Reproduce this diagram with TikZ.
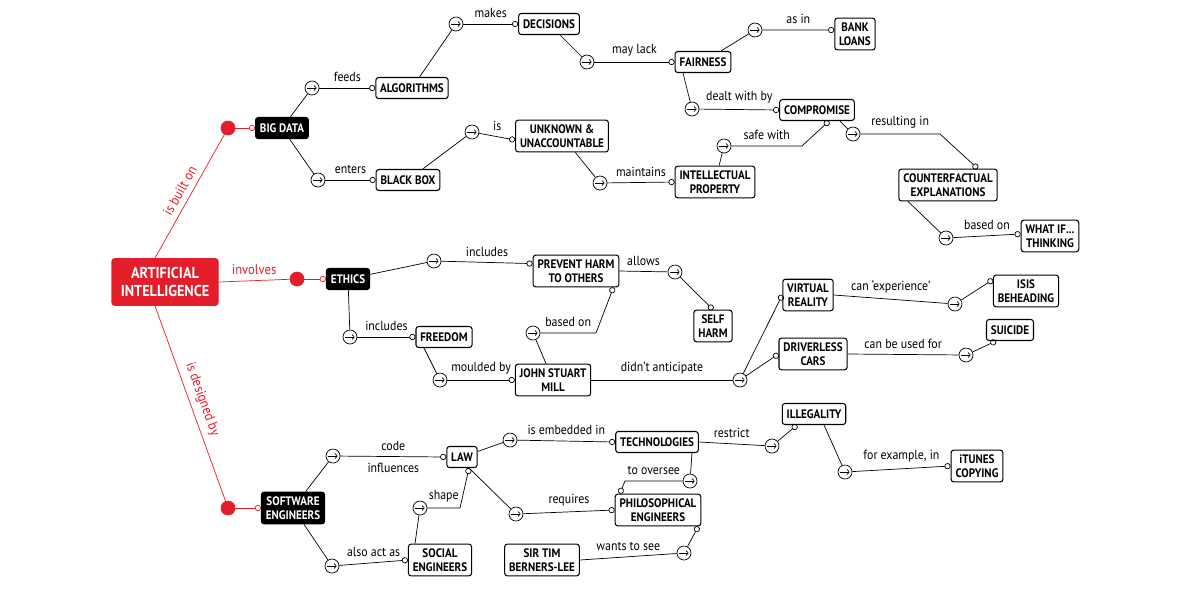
\documentclass[tikz,border=0pt]{standalone}
\usepackage{fontspec}
\setmainfont{PT Sans}[FakeStretch=0.9]
\usepackage{tikz}
\usetikzlibrary{shapes, arrows.meta, positioning}
\definecolor{aired}{HTML}{E31E2A}
\begin{document}
\begin{tikzpicture}[
    x=0.02cm, y=-0.02cm,
    concept/.style={
        rectangle, rounded corners=1.5pt,
        draw=black, semithick, fill=white,
        minimum height=0.42cm, inner sep=2.5pt,
        align=center,
        font=\fontsize{7}{8}\selectfont\bfseries
    },
    dark/.style={concept, fill=black, text=white},
    root/.style={concept, draw=aired, fill=aired, text=white,
        inner sep=5pt, font=\fontsize{9}{10}\selectfont\bfseries},
    hub/.style={
        circle, draw=black, fill=white,
        minimum size=0.28cm, inner sep=0pt,
        path picture={\draw[-{To[length=1.6pt,width=3.2pt]}]
            ([xshift=-2.6pt]path picture bounding box.center) --
            ([xshift=2.6pt]path picture bounding box.center);}
    },
    redhub/.style={hub, draw=aired, color=aired},
    link/.style={black, font=\fontsize{7.5}{8}\selectfont},
    tip/.style={link, -{Circle[open, length=3.5pt, width=3.5pt]}},
    redlink/.style={aired, font=\fontsize{8}{9}\selectfont},
    redtip/.style={redlink, -{Circle[open, length=3.5pt, width=3.5pt]}}
]
\useasboundingbox (0,0) rectangle (1200,600);

% concepts
\node[root]    (ai)       at (165,282) {ARTIFICIAL\\INTELLIGENCE};
\node[dark]    (bigdata)  at (282,128) {BIG DATA};
\node[dark]    (ethics)   at (348,279) {ETHICS};
\node[dark]    (soft)     at (293,508) {SOFTWARE\\ENGINEERS};
\node[concept] (algo)     at (412,88)  {ALGORITHMS};
\node[concept] (blackbox) at (408,180) {BLACK BOX};
\node[concept] (decision) at (549,24)  {DECISIONS};
\node[concept] (unknown)  at (562,136) {UNKNOWN \&\\UNACCOUNTABLE};
\node[concept] (fairness) at (703,62)  {FAIRNESS};
\node[concept] (bank)     at (855,34)  {BANK\\LOANS};
\node[concept] (compro)   at (817,110) {COMPROMISE};
\node[concept] (intprop)  at (715,182) {INTELLECTUAL\\PROPERTY};
\node[concept] (counter)  at (948,185) {COUNTERFACTUAL\\EXPLANATIONS};
\node[concept] (whatif)   at (1050,236) {WHAT IF...\\THINKING};
\node[concept] (prevent)  at (576,271) {PREVENT HARM\\TO OTHERS};
\node[concept] (selfharm) at (713,326) {SELF\\HARM};
\node[concept] (freedom)  at (444,337) {FREEDOM};
\node[concept] (mill)     at (553,380) {JOHN STUART\\MILL};
\node[concept] (virtual)  at (808,295) {VIRTUAL\\REALITY};
\node[concept] (isis)     at (1026,291) {ISIS\\BEHEADING};
\node[concept] (cars)     at (813,354) {DRIVERLESS\\CARS};
\node[concept] (suicide)  at (1010,330) {SUICIDE};
\node[concept] (illegal)  at (814,414) {ILLEGALITY};
\node[concept] (itunes)   at (977,466) {iTUNES\\COPYING};
\node[concept] (law)      at (462,457) {LAW};
\node[concept] (tech)     at (657,442) {TECHNOLOGIES};
\node[concept] (philo)    at (658,510) {PHILOSOPHICAL\\ENGINEERS};
\node[concept] (social)   at (440,560) {SOCIAL\\ENGINEERS};
\node[concept] (berners)  at (542,560) {SIR TIM\\BERNERS-LEE};

% hubs
\node[redhub] (hbuilt)  at (228,128) {};
\node[redhub] (hinv)    at (297,279) {};
\node[redhub] (hdesign) at (228,508) {};
\node[hub] (hfeeds)   at (312,88)  {};
\node[hub] (henters)  at (318,180) {};
\node[hub] (hmakes)   at (456,24)  {};
\node[hub] (his)      at (472,132) {};
\node[hub] (hlack)    at (587,62)  {};
\node[hub] (hmaint)   at (600,183) {};
\node[hub] (hasin)    at (755,30)  {};
\node[hub] (hdealt)   at (692,109) {};
\node[hub] (hsafe)    at (724,146) {};
\node[hub] (hresult)  at (853,134) {};
\node[hub] (hbased)   at (946,238) {};
\node[hub] (hincl)    at (434,261) {};
\node[hub] (hincl2)   at (350,337) {};
\node[hub] (hallows)  at (675,272) {};
\node[hub] (hmould)   at (440,380) {};
\node[hub] (hbasedon) at (533,333) {};
\node[hub] (hanti)    at (740,380) {};
\node[hub] (hexp)     at (955,304) {};
\node[hub] (hused)    at (966,355) {};
\node[hub] (hcode)    at (333,456) {};
\node[hub] (hembed)   at (510,440) {};
\node[hub] (hreq)     at (516,514) {};
\node[hub] (hact)     at (332,566) {};
\node[hub] (hshape)   at (420,508) {};
\node[hub] (hrestr)   at (772,446) {};
\node[hub] (hovers)   at (690,481) {};
\node[hub] (hexample) at (845,472) {};
\node[hub] (hwants)   at (684,553) {};

% bends
\coordinate (csafe)   at (802,146);
\coordinate (cresult) at (940,134);
\coordinate (cbased)  at (596,333);
\coordinate (cshape)  at (460,508);
\coordinate (covers)  at (625,481);

% root links
\draw[redlink] ([xshift=-0.2cm]ai.north) -- node[sloped, above] {is built on} (hbuilt);
\draw[redtip]  (hbuilt) -- (bigdata.west);
\draw[redlink] (ai.east) -- node[above] {involves} (hinv);
\draw[redtip]  (hinv) -- (ethics.west);
\draw[redlink] ([xshift=-0.2cm]ai.south) -- node[sloped, above] {is designed by} (hdesign);
\draw[redtip]  (hdesign) -- (soft.west);

% big data
\draw[link] (bigdata) -- (hfeeds);
\draw[tip]  (hfeeds) -- node[above] {feeds} (algo.west);
\draw[link] (bigdata) -- (henters);
\draw[tip]  (henters) -- node[above] {enters} (blackbox.west);
\draw[link] (algo) -- (hmakes);
\draw[tip]  (hmakes) -- node[above] {makes} (decision.west);
\draw[link] (blackbox) -- (his);
\draw[tip]  (his) -- node[above] {is} ([yshift=-0.08cm]unknown.west);
\draw[link] (decision) -- (hlack);
\draw[tip]  (hlack) -- node[above] {may lack} (fairness.west);
\draw[link] (unknown) -- (hmaint);
\draw[tip]  (hmaint) -- node[above] {maintains} (intprop.west);
\draw[link] (fairness) -- (hasin);
\draw[tip]  (hasin) -- node[above] {as in} ([yshift=0.08cm]bank.west);
\draw[link] ([xshift=-0.4cm]fairness.south) -- (hdealt);
\draw[tip]  (hdealt) -- node[above] {dealt with by} (compro.west);
\draw[link] (intprop) -- (hsafe);
\draw[tip]  (hsafe) -- node[above] {safe with} (csafe) -- ([xshift=0.24cm]compro.south);
\draw[link] ([xshift=0.46cm]compro.south) -- (hresult);
\draw[tip]  (hresult) -- node[above] {resulting in} (cresult) -- ([xshift=-0.4cm]counter.north east);
\draw[link] ([xshift=-0.8cm]counter.south) -- (hbased);
\draw[tip]  (hbased) -- node[above] {based on} ([yshift=0.04cm]whatif.west);

% ethics
\draw[link] (ethics) -- (hincl);
\draw[tip]  (hincl) -- node[above] {includes} ([yshift=-0.18cm]prevent.north west);
\draw[link] (ethics) -- (hincl2);
\draw[tip]  (hincl2) -- node[above] {includes} (freedom.west);
\draw[link] (prevent.east) -- node[above] {allows} (hallows);
\draw[tip]  (hallows) -- (selfharm.north);
\draw[link] ([xshift=-0.4cm]freedom.south) -- (hmould);
\draw[tip]  (hmould) -- node[above] {moulded by} (mill.west);
\draw[link] (mill) -- (hbasedon);
\draw[tip]  (hbasedon) -- node[above] {based on} (cbased) -- ([xshift=-0.12cm]prevent.south east);
\draw[link] (mill.east) -- node[above] {didn't anticipate} (hanti);
\draw[tip]  (hanti) -- (virtual.west);
\draw[tip]  (hanti) -- (cars.west);
\draw[link] (virtual.east) -- node[above] {can ‘experience’} (hexp);
\draw[tip]  (hexp) -- ([yshift=-0.1cm]isis.north west);
\draw[link] (cars.east) -- node[above] {can be used for} (hused);
\draw[tip]  (hused) -- ([xshift=0.2cm]suicide.south west);

% software engineers
\draw[link] (soft) -- (hcode);
\draw[tip]  (hcode) -- node[above] {code} node[below] {influences} (law.west);
\draw[link] (law) -- (hembed);
\draw[tip]  (hembed) -- node[above] {is embedded in} (tech.west);
\draw[link] ([xshift=0.14cm]law.south) -- (hreq);
\draw[tip]  (hreq) -- node[above] {requires} (philo.west);
\draw[link] (soft) -- (hact);
\draw[tip]  (hact) -- node[above] {also act as} (social.west);
\draw[link] ([xshift=-0.5cm]social.north) -- (hshape);
\draw[tip]  (hshape) -- node[above] {shape} (cshape) -- ([xshift=0.14cm]law.south);
\draw[link] (tech.east) -- node[above] {restrict} (hrestr);
\draw[tip]  (hrestr) -- ([xshift=-0.34cm]illegal.south);
\draw[link] ([xshift=0.7cm]tech.south) -- (hovers);
\draw[tip]  (hovers) -- node[above] {to oversee} (covers) -- ([xshift=0.1cm]philo.north west);
\draw[link] ([xshift=0.2cm]illegal.south) -- (hexample);
\draw[tip]  (hexample) -- node[above] {for example, in} (itunes.west);
\draw[link] (berners.east) -- node[above] {wants to see} (hwants);
\draw[tip]  (hwants) -- ([xshift=-0.06cm]philo.south east);
\end{tikzpicture}
\end{document}
